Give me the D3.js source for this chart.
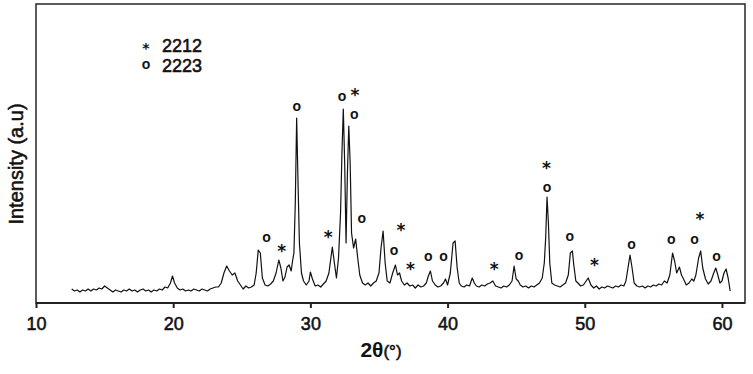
<!DOCTYPE html>
<meta charset="utf-8">
<style>
    body { margin: 0; background: #fff; }
    svg text { font-family: "Liberation Sans", Arial, sans-serif; fill: #111; }
    .heavy { stroke: #111; stroke-width: 0.55px; }
    .line { fill: none; stroke: #111; stroke-width: 1.2px; stroke-linejoin: round; }
    .axis path, .axis line { stroke: #222; stroke-width: 2px; }
    .axis text { font-size: 18px; fill: #111; stroke: #111; stroke-width: 0.55px; }
    .star { font-family: "DejaVu Sans", sans-serif !important; font-weight: bold; fill: #111; }
</style>
<script src="https://d3js.org/d3.v7.min.js"></script>
<body>
<div id="chart"></div>
<script>
    // 2theta (deg) and intensity (a.u.)
    var twoTheta = [
        12.6, 12.8, 13.0, 13.2, 13.4, 13.6, 13.8, 14.0, 14.2, 14.4, 14.6, 14.8, 15.0, 15.2, 15.4, 15.6, 15.8,
        16.0, 16.2, 16.4, 16.6, 16.8, 17.0, 17.2, 17.4, 17.6, 17.8, 18.0, 18.2, 18.4, 18.6, 18.8, 19.0, 19.2,
        19.4, 19.6, 19.8, 19.95, 20.1, 20.3, 20.5, 20.7, 20.9, 21.1, 21.3, 21.5, 21.7, 21.9, 22.1, 22.3, 22.5,
        22.7, 22.9, 23.1, 23.3, 23.5, 23.7, 23.9, 24.1, 24.3, 24.5, 24.7, 24.9, 25.1, 25.3, 25.5, 25.7, 25.9,
        26.05, 26.2, 26.35, 26.5, 26.7, 26.9, 27.1, 27.3, 27.5, 27.7, 27.85, 28.0, 28.15, 28.3, 28.45, 28.6,
        28.7, 28.8, 28.9, 29.0, 29.1, 29.2, 29.35, 29.5, 29.7, 29.9, 30.0, 30.15, 30.35, 30.55, 30.75, 30.95,
        31.15, 31.35, 31.6, 31.75, 31.9, 32.05, 32.2, 32.3, 32.4, 32.5, 32.6, 32.7, 32.8, 32.9, 33.0, 33.15,
        33.3, 33.45, 33.6, 33.8, 34.0, 34.2, 34.4, 34.6, 34.8, 35.0, 35.15, 35.3, 35.45, 35.6, 35.8, 36.0,
        36.2, 36.35, 36.5, 36.65, 36.85, 37.05, 37.25, 37.45, 37.65, 37.85, 38.05, 38.25, 38.45, 38.6, 38.75,
        38.9, 39.1, 39.3, 39.5, 39.7, 39.85, 40.0, 40.2, 40.4, 40.55, 40.7, 40.85, 41.0, 41.2, 41.4, 41.6,
        41.8, 41.95, 42.1, 42.3, 42.5, 42.7, 42.9, 43.1, 43.3, 43.5, 43.7, 43.9, 44.1, 44.3, 44.5, 44.7,
        44.85, 45.0, 45.15, 45.3, 45.5, 45.7, 45.9, 46.1, 46.3, 46.5, 46.7, 46.9, 47.05, 47.15, 47.25, 47.35,
        47.45, 47.6, 47.8, 48.0, 48.2, 48.4, 48.6, 48.8, 48.95, 49.1, 49.2, 49.35, 49.5, 49.7, 49.9, 50.1,
        50.25, 50.45, 50.65, 50.85, 51.05, 51.25, 51.45, 51.65, 51.85, 52.05, 52.25, 52.45, 52.65, 52.85,
        53.0, 53.15, 53.3, 53.45, 53.6, 53.8, 54.0, 54.2, 54.4, 54.6, 54.8, 55.0, 55.2, 55.4, 55.6, 55.8,
        56.0, 56.2, 56.4, 56.55, 56.7, 56.9, 57.05, 57.2, 57.4, 57.6, 57.8, 57.95, 58.1, 58.3, 58.45, 58.6,
        58.8, 59.0, 59.2, 59.4, 59.55, 59.7, 59.85, 60.0, 60.15, 60.3, 60.45, 60.6
    ];
    var intensity = [
        14, 12, 13, 11, 13, 12, 14, 12, 14, 13, 15, 14, 17, 15, 13, 11, 13,
        12, 11, 13, 12, 14, 12, 13, 11, 13, 14, 12, 13, 11, 13, 12, 14, 13,
        16, 15, 20, 27, 20, 15, 13, 14, 12, 13, 12, 14, 13, 12, 14, 13, 12,
        14, 15, 16, 16, 20, 30, 37, 32, 28, 30, 22, 18, 14, 17, 15, 16, 18,
        30, 53, 50, 25, 18, 17, 19, 22, 30, 43, 35, 22, 26, 36, 38, 32,
        42, 50, 100, 185, 120, 60, 30, 22, 18, 22, 31, 24, 17, 18, 16, 19,
        22, 30, 56, 40, 25, 45, 90, 150, 194, 140, 60, 130, 177, 140, 70, 55,
        64, 45, 28, 20, 18, 20, 17, 20, 22, 30, 55, 72, 40, 22, 20, 30,
        38, 28, 30, 22, 18, 20, 17, 18, 15, 18, 16, 17, 20, 27, 32,
        22, 18, 16, 17, 20, 24, 18, 30, 60, 62, 35, 20, 17, 16, 18, 17,
        25, 20, 17, 16, 18, 17, 19, 20, 22, 17, 16, 15, 17, 16, 18, 22,
        37, 24, 22, 18, 16, 17, 15, 17, 16, 18, 20, 25, 40, 65, 106, 80,
        40, 20, 18, 17, 16, 18, 20, 28, 50, 52, 38, 22, 20, 17, 18, 22,
        25, 18, 15, 17, 14, 16, 15, 17, 16, 15, 17, 16, 18, 17,
        22, 35, 48, 35, 20, 17, 16, 17, 15, 17, 16, 18, 17, 19, 18, 22,
        20, 28, 50, 42, 30, 36, 28, 24, 18, 20, 24, 22, 28, 45, 52, 35,
        24, 19, 22, 30, 35, 28, 20, 22, 30, 34, 25, 12
    ];

    // phase labels on the peaks
    var markTheta = [26.8, 27.9, 29.0, 31.3, 32.3, 33.25, 33.2, 33.75, 36.6, 36.1, 37.3, 38.6, 39.7,
        43.4, 45.2, 47.2, 47.25, 48.9, 50.7, 53.4, 56.3, 58.0, 58.4, 59.6];
    var markLevel = [65, 56, 196, 70, 206, 212, 188, 84, 77, 52, 38, 46, 46,
        38, 47, 139, 115, 66, 42, 58, 63, 63, 88, 46];
    var markSymbol = ["o", "*", "o", "*", "o", "*", "o", "o", "*", "o", "*", "o", "o",
        "*", "o", "*", "o", "o", "*", "o", "o", "o", "*", "o"];

    var legendSymbols = ["*", "o"];
    var legendLabels = ["2212", "2223"];
    var xTicks = [10, 20, 30, 40, 50, 60];

    var data = twoTheta.map(function(t, i) { return { t: t, v: intensity[i] }; });
    var marks = markTheta.map(function(t, i) { return { t: t, v: markLevel[i], s: markSymbol[i] }; });

    var W = 753, H = 374,
        margin = { top: 4, right: 8, bottom: 71, left: 36 },
        width = W - margin.left - margin.right,
        height = H - margin.top - margin.bottom;

    var svg = d3.select("#chart").append("svg")
        .attr("width", W)
        .attr("height", H);

    var g = svg.append("g")
        .attr("transform", "translate(" + margin.left + "," + margin.top + ")");

    var x = d3.scaleLinear().domain([10, 61.68]).range([0, width]);
    var y = d3.scaleLinear().domain([0, height]).range([height, 0]);

    // frame
    g.append("rect")
        .attr("width", width)
        .attr("height", height)
        .attr("fill", "none")
        .attr("stroke", "#333")
        .attr("stroke-width", 1.6);

    g.append("g")
        .attr("class", "axis")
        .attr("transform", "translate(0," + height + ")")
        .call(d3.axisBottom(x).tickValues(xTicks).tickSize(5).tickSizeOuter(0).tickPadding(9))
        .call(function(a) { a.select(".domain").attr("d", "M0,0H" + width); });

    var line = d3.line()
        .x(function(d) { return x(d.t); })
        .y(function(d) { return y(d.v); });

    g.append("path")
        .datum(data)
        .attr("class", "line")
        .attr("d", line);

    // symbol text helper: "*" in DejaVu bold, "o" in bold sans
    function symbol(sel, size) {
        sel.attr("text-anchor", "middle")
            .attr("class", function(d) { return d === "*" ? "star" : null; })
            .attr("dy", function(d) { return d === "*" ? size.star * 0.6 : 3.8; })
            .style("font-size", function(d) { return (d === "*" ? size.star : 14) + "px"; })
            .style("font-weight", "bold")
            .text(function(d) { return d; });
    }

    g.selectAll(".mark")
        .data(marks)
        .enter().append("g")
        .attr("class", "mark")
        .attr("transform", function(d) { return "translate(" + x(d.t) + "," + y(d.v) + ")"; })
        .append("text")
        .datum(function(d) { return d.s; })
        .call(symbol, { star: 17 });

    // legend
    var legend = g.append("g").attr("transform", "translate(110,41)");
    legendLabels.forEach(function(lab, i) {
        var row = legend.append("g").attr("transform", "translate(0," + i * 20 + ")");
        row.append("text")
            .datum(legendSymbols[i])
            .call(symbol, { star: 14 });
        row.append("text")
            .attr("class", "heavy")
            .attr("x", 16)
            .attr("dy", 6.5)
            .style("font-size", "18px")
            .text(lab);
    });

    // axis titles
    svg.append("text")
        .attr("class", "heavy")
        .attr("transform", "translate(23," + 164 + ") rotate(-90)")
        .attr("text-anchor", "middle")
        .style("font-size", "20px")
        .text("Intensity (a.u)");

    var xt = svg.append("text")
        .attr("x", 381)
        .attr("y", 357)
        .attr("text-anchor", "middle");
    xt.append("tspan")
        .style("font-size", "21px")
        .style("font-weight", "bold")
        .text("2θ");
    xt.append("tspan")
        .attr("class", "heavy")
        .style("font-size", "17px")
        .text("(°)");
</script>
</body>
